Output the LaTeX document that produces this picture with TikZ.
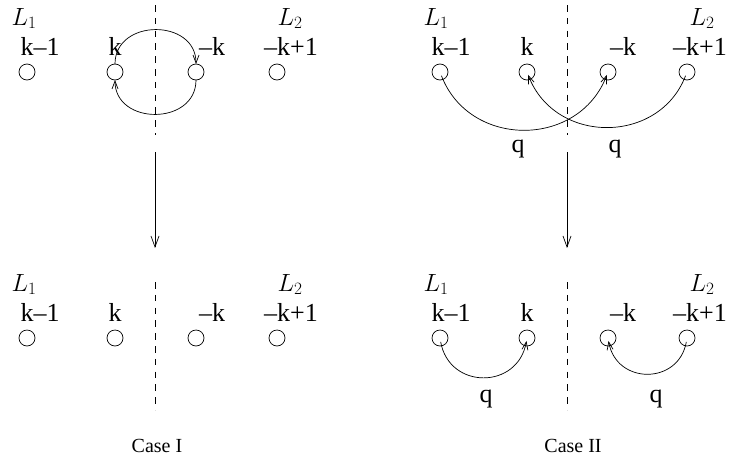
\documentclass[tikz,border=0pt]{standalone}
\usepackage{fontspec}
\setmainfont{Liberation Serif}
\usetikzlibrary{arrows.meta}
\begin{document}
\begin{tikzpicture}[x=1pt,y=1pt,
  dot/.style={circle,draw,minimum size=16pt,inner sep=0pt,line width=0.7pt},
  lab/.style={anchor=base,inner sep=0pt,font=\fontsize{26}{30}\selectfont},
  llab/.style={anchor=base,inner sep=0pt,font=\fontsize{25}{30}\selectfont},
  captext/.style={anchor=base,inner sep=0pt,font=\fontsize{20}{24}\selectfont},
  sep/.style={dash pattern=on 6.5pt off 6.3pt,line width=0.7pt},
  bigarr/.style={line width=0.7pt,-{Straight Barb[length=11pt,width=8pt]}},
  arcarr/.style={line width=0.7pt,-{Straight Barb[length=8pt,width=6pt]}},
]
\useasboundingbox (0,0) rectangle (730,-458);

% ---------- Case I, top ----------
\node[llab] (aL1) at (24,-25) {$L_1$};
\node[llab] (aL2) at (290,-25) {$L_2$};
\node[lab] (at1) at (40,-55) {k–1};
\node[lab] (at2) at (115,-55) {k};
\node[lab] (at3) at (212,-55) {–k};
\node[lab] (at4) at (291,-55) {–k+1};
\node[dot] (a1) at (27,-72) {};
\node[dot] (a2) at (115,-72) {};
\node[dot] (a3) at (196,-72) {};
\node[dot] (a4) at (277,-72) {};
\coordinate (aS) at (155,-5);
\coordinate (aE) at (155,-135);
\draw[sep] (aS) -- (aE);
\draw[arcarr,shorten <=8pt,shorten >=8pt] (a2.center) to[out=90,in=90,looseness=1.7] (a3.center);
\draw[arcarr,shorten <=8pt,shorten >=8pt] (a3.center) to[out=-90,in=-90,looseness=1.7] (a2.center);

% vertical arrow Case I
\coordinate (vaS) at (155,-152);
\coordinate (vaE) at (155,-248);
\draw[bigarr] (vaS) -- (vaE);

% ---------- Case I, bottom ----------
\node[llab] (bL1) at (24,-291) {$L_1$};
\node[llab] (bL2) at (290,-291) {$L_2$};
\node[lab] (bt1) at (40,-321) {k–1};
\node[lab] (bt2) at (115,-321) {k};
\node[lab] (bt3) at (212,-321) {–k};
\node[lab] (bt4) at (291,-321) {–k+1};
\node[dot] (b1) at (27,-338) {};
\node[dot] (b2) at (115,-338) {};
\node[dot] (b3) at (196,-338) {};
\node[dot] (b4) at (277,-338) {};
\coordinate (bS) at (155,-282);
\coordinate (bE) at (155,-410);
\draw[sep] (bS) -- (bE);
\node[captext] (capI) at (157,-452) {Case I};

% ---------- Case II, top ----------
\node[llab] (cL1) at (436,-25) {$L_1$};
\node[llab] (cL2) at (702,-25) {$L_2$};
\node[lab] (ct1) at (451,-55) {k–1};
\node[lab] (ct2) at (527,-55) {k};
\node[lab] (ct3) at (623,-55) {–k};
\node[lab] (ct4) at (700,-55) {–k+1};
\node[dot] (c1) at (440,-72) {};
\node[dot] (c2) at (527,-72) {};
\node[dot] (c3) at (608,-72) {};
\node[dot] (c4) at (687,-72) {};
\coordinate (cS) at (567,-5);
\coordinate (cE) at (567,-135);
\draw[sep] (cS) -- (cE);
\draw[arcarr,shorten <=4pt,shorten >=3pt] (c1.center) to[out=-69,in=-111,looseness=1.25] (c3.center);
\draw[arcarr,shorten <=4pt,shorten >=3pt] (c4.center) to[out=-111,in=-69,looseness=1.25] (c2.center);
\node[lab] (cq1) at (518,-152) {q};
\node[lab] (cq2) at (615,-152) {q};

% vertical arrow Case II
\coordinate (vcS) at (567,-152);
\coordinate (vcE) at (567,-248);
\draw[bigarr] (vcS) -- (vcE);

% ---------- Case II, bottom ----------
\node[llab] (dL1) at (436,-291) {$L_1$};
\node[llab] (dL2) at (702,-291) {$L_2$};
\node[lab] (dt1) at (451,-321) {k–1};
\node[lab] (dt2) at (527,-321) {k};
\node[lab] (dt3) at (623,-321) {–k};
\node[lab] (dt4) at (700,-321) {–k+1};
\node[dot] (d1) at (440,-338) {};
\node[dot] (d2) at (527,-338) {};
\node[dot] (d3) at (608,-338) {};
\node[dot] (d4) at (687,-338) {};
\coordinate (dS) at (567,-282);
\coordinate (dE) at (567,-410);
\draw[sep] (dS) -- (dE);
\draw[arcarr,shorten <=4pt,shorten >=3pt] (d1.center) to[out=-80,in=-100,looseness=1.55] (d2.center);
\draw[arcarr,shorten <=4pt,shorten >=3pt] (d4.center) to[out=-100,in=-80,looseness=1.55] (d3.center);
\node[lab] (dq1) at (486,-402) {q};
\node[lab] (dq2) at (656,-402) {q};
\node[captext] (capII) at (573,-452) {Case II};
\end{tikzpicture}
\end{document}
